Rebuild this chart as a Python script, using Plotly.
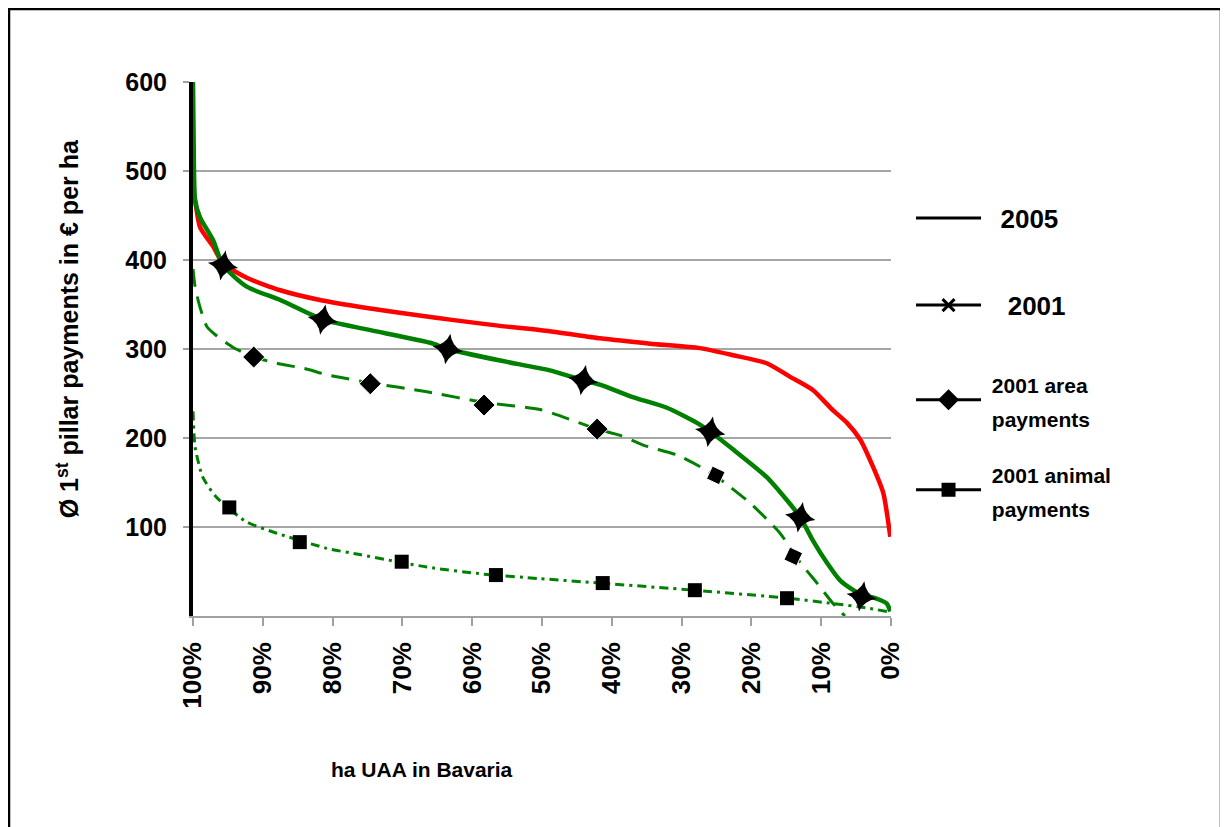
import plotly.graph_objects as go

# share of UAA (%); axis runs 100% -> 0%
red_x = [100, 99.7, 99.0, 97.1, 95.7, 92.3, 87.5, 81.8, 75.1, 66.0, 63.2, 56.0, 48.9,
         41.7, 34.5, 27.4, 22.6, 17.8, 14.5, 11.2, 8.3, 6.3, 4.4, 2.6, 1.1, 0.1]
red_y = [478, 467, 437, 415, 396, 380, 366, 355, 346, 336, 333, 326, 320,
         312, 306, 301, 293, 284, 269, 254, 231, 217, 198, 168, 138, 89]

g01_x = [100, 99.9, 99.7, 99.0, 97.1, 95.7, 92.3, 87.5, 81.4, 75.1, 66.0, 63.5, 56.0, 48.9,
         44.1, 41.7, 37.0, 32.1, 27.8, 25.9, 22.6, 17.8, 14.9, 13.0, 11.2, 9.2, 7.3, 5.4,
         3.8, 2.6, 0.6, 0.1]
g01_y = [600, 530, 467, 448, 422, 394, 370, 355, 333, 322, 307, 300, 287, 276,
         265, 260, 246, 234, 217, 207, 187, 156, 130, 111, 85, 60, 40, 29,
         22, 21, 14, 5]
g01_mx = [95.7, 81.4, 63.5, 44.1, 25.9, 13.0, 4.2]
g01_my = [394, 333, 300, 265, 207, 111, 22]

area_x = [100, 99.7, 99.0, 98.0, 96.8, 94.3, 91.3, 88.0, 84.0, 80.8, 74.6, 66.5, 58.3, 50.3,
          42.1, 38.8, 35.5, 30.7, 27.4, 24.9, 20.2, 15.9, 13.0, 10.6, 8.3, 6.6]
area_y = [390, 370, 347, 325, 316, 302, 291, 284, 278, 271, 262, 252, 240, 232,
          210, 203, 192, 181, 168, 156, 127, 93, 60, 37, 14, 0]
area_mx = [91.3, 74.6, 58.3, 42.1, 25.1, 14.0]
area_my = [291, 261, 237, 210, 158, 67]

anim_x = [100, 99.7, 98.6, 96.7, 92.4, 88.0, 80.8, 76.1, 66.5, 58.3, 50.3, 41.7, 28.2,
          14.8, 8.3, 3.4, 0.6]
anim_y = [230, 190, 156, 134, 106, 93, 76, 69, 55, 47, 42, 37, 29,
          20, 14, 9, 5]
anim_mx = [94.8, 84.7, 70.1, 56.6, 41.3, 28.1, 14.9]
anim_my = [122, 83, 61, 46, 37, 29, 20]

x_ticks = [100, 90, 80, 70, 60, 50, 40, 30, 20, 10, 0]
x_labels = [f"{v}%" for v in x_ticks]
y_ticks = [100, 200, 300, 400, 500, 600]

RED = "#ff0000"
GREEN = "#008000"

fig = go.Figure()

fig.add_trace(go.Scatter(x=red_x, y=red_y, mode="lines", showlegend=False,
                         line=dict(color=RED, width=4.5, shape="spline", smoothing=0.6)))
fig.add_trace(go.Scatter(x=g01_x, y=g01_y, mode="lines", showlegend=False,
                         line=dict(color=GREEN, width=4.5, shape="spline", smoothing=0.6)))
fig.add_trace(go.Scatter(x=area_x, y=area_y, mode="lines", showlegend=False,
                         line=dict(color=GREEN, width=3, dash="18px,10px",
                                   shape="spline", smoothing=0.6)))
fig.add_trace(go.Scatter(x=anim_x, y=anim_y, mode="lines", showlegend=False,
                         line=dict(color=GREEN, width=3, dash="9px,5px,3px,5px",
                                   shape="spline", smoothing=0.6)))

fig.add_trace(go.Scatter(x=g01_mx, y=g01_my, mode="markers", showlegend=False,
                         marker=dict(symbol="star-diamond", size=22, color="black", angle=10)))
# the last two area markers look like tilted squares in the original
fig.add_trace(go.Scatter(x=area_mx, y=area_my, mode="markers", showlegend=False,
                         marker=dict(symbol=["diamond"] * 4 + ["square"] * 2,
                                     size=[17] * 4 + [14] * 2, opacity=1,
                                     angle=[0] * 4 + [25] * 2, color="black")))
fig.add_trace(go.Scatter(x=anim_mx, y=anim_my, mode="markers", showlegend=False,
                         marker=dict(symbol="square", size=14, color="black")))

# legend entries (black swatches, as in the original), one legend box per entry
legend_items = [
    ("&nbsp;&nbsp;2005", None, 0, 0.745),
    ("&nbsp;&nbsp;&nbsp;2001", "x-thin-open", 12, 0.582),
    ("<span style='font-size:21px'>&nbsp;2001 area<br>&nbsp;payments</span>", "diamond", 13, 0.4045),
    ("<span style='font-size:21px'>&nbsp;2001 animal<br>&nbsp;payments</span>", "square", 11, 0.236),
]
legend_layouts = {}
for i, (name, sym, sz, ly) in enumerate(legend_items):
    key = "legend" if i == 0 else f"legend{i + 1}"
    fig.add_trace(go.Scatter(
        x=[None], y=[None], name=name, legend=key,
        mode="lines+markers" if sym else "lines",
        line=dict(color="black", width=3),
        marker=dict(symbol=sym or "circle", size=sz, color="black",
                    line=dict(color="black", width=3)),
    ))
    legend_layouts[key] = dict(
        x=1.0287, y=ly, xanchor="left", yanchor="middle",
        font=dict(size=26), itemwidth=65, bgcolor="rgba(0,0,0,0)",
    )

fig.update_layout(
    width=1228, height=827,
    margin=dict(l=185, r=345, t=74, b=219),
    paper_bgcolor="white", plot_bgcolor="white",
    font=dict(family="Liberation Sans, Arial, sans-serif", color="black", weight="bold"),
    xaxis=dict(
        range=[100, 0], tickvals=x_ticks, ticktext=x_labels, tickangle=-90,
        tickfont=dict(size=26), showgrid=False, zeroline=False,
        showline=True, linecolor="#a0a0a0", linewidth=1.5,
        ticks="outside", ticklen=8, tickcolor="#a0a0a0", tickwidth=1.5,
        ticklabelstandoff=6,
    ),
    yaxis=dict(
        range=[0, 600], tickvals=y_ticks, tickfont=dict(size=25),
        showgrid=True, gridcolor="#a6a6a6", gridwidth=1.5, zeroline=False,
        showline=True, linecolor="black", linewidth=4,
        ticks="outside", ticklen=6, tickcolor="#a0a0a0", tickwidth=1.5,
        ticklabelstandoff=11,
    ),
    yaxis2=dict(
        overlaying="y", side="right", anchor="x", range=[0, 600], tickvals=y_ticks,
        showticklabels=False, showgrid=False, zeroline=False,
        showline=True, linecolor="#a0a0a0", linewidth=1.5,
        ticks="outside", ticklen=6, tickcolor="#a0a0a0", tickwidth=1.5,
    ),
    annotations=[
        dict(text="ha UAA in Bavaria", xref="paper", yref="paper",
             x=0.328, y=-0.288, xanchor="center", yanchor="middle",
             showarrow=False, font=dict(size=21)),
        dict(text="Ø 1<sup>st</sup> pillar payments in € per ha", xref="paper", yref="paper",
             x=-0.179, y=0.537, xanchor="center", yanchor="middle", textangle=-90,
             showarrow=False, font=dict(size=25)),
    ],
    shapes=[dict(type="rect", xref="paper", yref="paper",
                 x0=-0.2636, x1=1.4728, y0=-0.45, y1=1.1367,
                 line=dict(color="black", width=2.5), layer="below")],
    **legend_layouts,
)

fig.write_html("out.html")
